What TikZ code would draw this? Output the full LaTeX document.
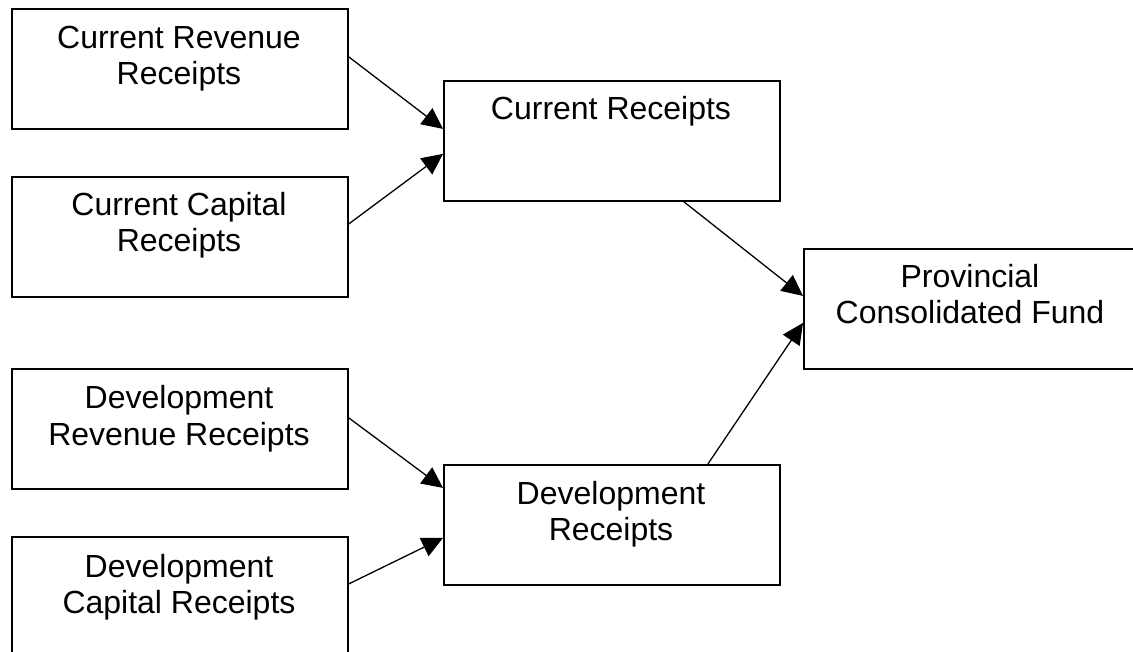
\documentclass[tikz,border=0pt]{standalone}
\usepackage{fontspec}
\setmainfont{Liberation Sans}
\usetikzlibrary{arrows.meta}
\begin{document}
\begin{tikzpicture}[x=1pt,y=-1pt,
  box/.style={draw=black,line width=1.8pt,rectangle,minimum width=336pt,minimum height=120pt,inner sep=0pt,anchor=north west},
  lbl/.style={align=center,inner sep=0pt,anchor=base,font=\fontsize{32}{36}\selectfont},
  arr/.style={line width=1.3pt,-{Triangle[length=21pt,width=20pt]}}]
\useasboundingbox (0,0) rectangle (1133,652);
\begin{scope}
\clip (0,0) rectangle (1133,652);
\node[box] (b1) at (11,8) {};
\node[box] (b2) at (11,176) {};
\node[box] (b3) at (11,368) {};
\node[box] (b4) at (11,536) {};
\node[box] (cr) at (443,80) {};
\node[box] (dr) at (443,464) {};
\node[box,minimum width=334pt] (pcf) at (803,248) {};
\end{scope}
\node[lbl] (t1) at (179,85) {Current Revenue\\Receipts};
\node[lbl] (t2) at (179,252) {Current Capital\\Receipts};
\node[lbl] (t3) at (179,445) {Development\\Revenue Receipts};
\node[lbl] (t4) at (179,613) {Development\\Capital Receipts};
\node[lbl] (t5) at (611,120) {Current Receipts};
\node[lbl] (t6) at (611,540) {Development\\Receipts};
\node[lbl] (t7) at (970,324) {Provincial\\Consolidated Fund};
\draw[arr] ([yshift=12pt]b1.east) -- ([yshift=12pt]cr.west);
\draw[arr] ([yshift=13pt]b2.east) -- ([yshift=-13pt]cr.west);
\draw[arr] ([xshift=72pt]cr.south) -- ([yshift=13pt]pcf.west);
\draw[arr] ([yshift=11pt]b3.east) -- ([yshift=37pt]dr.west);
\draw[arr] ([yshift=13pt]b4.east) -- ([yshift=-13pt]dr.west);
\draw[arr] ([xshift=96pt]dr.north) -- ([yshift=-14pt]pcf.west);
\end{tikzpicture}
\end{document}
